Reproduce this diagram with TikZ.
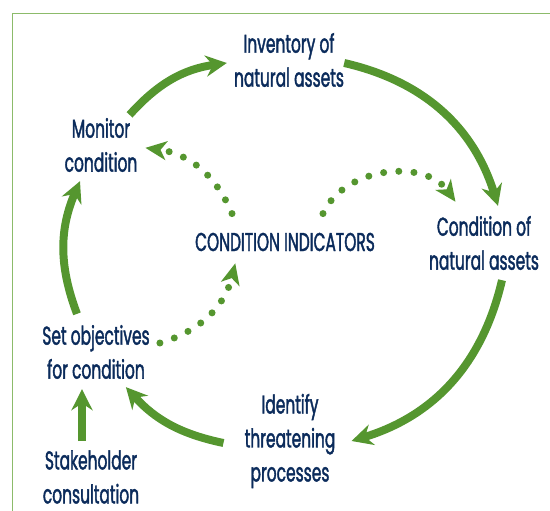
\documentclass[tikz,border=0pt]{standalone}
\usepackage{fontspec}
\setmainfont[FakeStretch=0.6, FakeBold=1.5]{Poppins}
\usetikzlibrary{arrows.meta}
\definecolor{verde}{HTML}{55962F}
\definecolor{marco}{HTML}{8CBB6A}
\definecolor{azul}{HTML}{0B2B5B}
\tikzset{
  etiqueta/.style={inner sep=0, align=center, text=azul, font=\fontsize{22}{29}\selectfont},
  ciclo/.style={verde, line width=6.8pt, -{Stealth[length=18pt, width=18pt, inset=6pt]}},
  punteado/.style={verde, line width=6pt, line cap=round, dash pattern=on 0pt off 13pt,
    -{Stealth[length=18pt, width=16pt, inset=5pt, line cap=butt, sep=-1pt]}}
}
\begin{document}
\begin{tikzpicture}[x=0.03cm, y=-0.03cm]
    \useasboundingbox (0,0) rectangle (550,511);

    % Marco verde
    \draw[marco, line width=0.8pt] (550,13) -- (12,13) -- (12,511);

    % Etapas del ciclo
    \node[etiqueta] (inv) at (289,60) {Inventory of\\natural assets};
    \node[etiqueta] (mon) at (101,145) {Monitor\\condition};
    \node[etiqueta] (cind) at (285,242) {CONDITION INDICATORS};
    \node[etiqueta] (cond) at (484,243) {Condition of\\natural assets};
    \node[etiqueta] (set) at (96,352) {Set objectives\\for condition};
    \node[etiqueta] (ide) at (290,441) {Identify\\threatening\\processes};
    \node[etiqueta] (stake) at (91,477) {Stakeholder\\consultation};

    % Flechas del ciclo
    \draw[ciclo] ([shift={(-8,-3)}]mon.north east) to[bend left=20] ([shift={(-7,3)}]inv.west);
    \draw[ciclo] ([shift={(0,3)}]inv.east) to[bend left=30] ([shift={(14,-10)}]cond.north);
    \draw[ciclo] ([shift={(18,10)}]cond.south) to[bend left=30] ([shift={(16,0)}]ide.east);
    \draw[ciclo] ([shift={(-21,2)}]ide.west) to[bend left=18] ([shift={(-24,8)}]set.south east);
    \draw[ciclo] ([shift={(-19,-11)}]set.north) to[bend left=22] ([shift={(-21,9)}]mon.south);
    \draw[ciclo] ([shift={(-9,-9)}]stake.north) -- ([shift={(-14,10)}]set.south);

    % Flechas punteadas de los indicadores
    \draw[punteado] ([shift={(-53,-19)}]cind.north) to[bend right=30] ([shift={(9,3)}]mon.east);
    \draw[punteado] ([shift={(38,-19)}]cind.north) to[bend left=60] ([shift={(26,-15)}]cond.north west);
    \draw[punteado] ([shift={(10,-9)}]set.east) to[bend right=30] ([shift={(-50,13)}]cind.south);
\end{tikzpicture}
\end{document}
